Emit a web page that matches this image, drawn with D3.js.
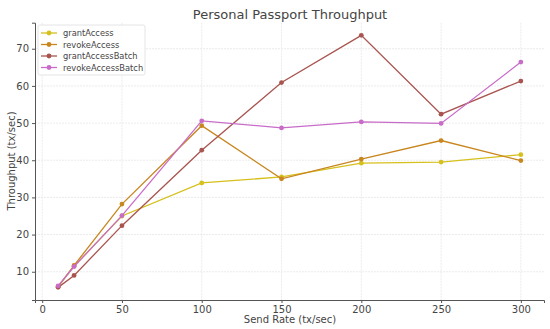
<!DOCTYPE html>
<html><head><meta charset="utf-8">
<script src="https://cdn.jsdelivr.net/npm/d3@7"></script>
<style>body{margin:0;background:#fff}svg{display:block}text{font-family:"DejaVu Sans",sans-serif;fill:#444}</style>
</head><body><svg id="c" width="550" height="329"></svg>
<script>
const sendRates = [10, 20, 50, 100, 150, 200, 250, 300];
const seriesNames = ["grantAccess", "revokeAccess", "grantAccessBatch", "revokeAccessBatch"];
const grantAccess = [6.0, 11.5, 25.0, 33.9, 35.5, 39.2, 39.5, 41.5];
const revokeAccess = [6.0, 11.7, 28.2, 49.3, 35.0, 40.3, 45.3, 39.9];
const grantAccessBatch = [5.8, 9.0, 22.4, 42.7, 60.9, 73.6, 52.4, 61.3];
const revokeAccessBatch = [6.2, 11.4, 25.1, 50.6, 48.7, 50.3, 49.9, 66.4];
const xTicks = [0, 50, 100, 150, 200, 250, 300];
const yTicks = [10, 20, 30, 40, 50, 60, 70];
const colors = ["#d6c01c", "#c8861f", "#a8544f", "#c86cc8"];

const svg = d3.select("#c");
const L = 35, R = 544, T = 22.7, B = 300;
const x = d3.scaleLinear().domain([-4.5, 314.5]).range([L, R]);
const y = d3.scaleLinear().domain([2.4, 77]).range([B, T]);

// grid
svg.append("g").selectAll("line").data(xTicks).join("line")
  .attr("x1", d => x(d)).attr("x2", d => x(d)).attr("y1", T).attr("y2", B)
  .attr("stroke", "#e6e6e6").attr("stroke-width", 0.8).attr("stroke-dasharray", "2,1");
svg.append("g").selectAll("line").data(yTicks).join("line")
  .attr("x1", L).attr("x2", R).attr("y1", d => y(d)).attr("y2", d => y(d))
  .attr("stroke", "#e6e6e6").attr("stroke-width", 0.8).attr("stroke-dasharray", "2,1");

// axes
const xa = svg.append("g").attr("transform", `translate(0,${B})`)
  .call(d3.axisBottom(x).tickValues(xTicks).tickSize(3).tickPadding(3));
const ya = svg.append("g").attr("transform", `translate(${L},0)`)
  .call(d3.axisLeft(y).tickValues(yTicks).tickSize(3).tickPadding(3));
[xa, ya].forEach(a => {
  a.select(".domain").attr("stroke", "#555").attr("stroke-width", 1);
  a.selectAll(".tick line").attr("stroke", "#555");
  a.selectAll(".tick text").attr("font-size", 10).attr("fill", "#444").attr("font-family", "DejaVu Sans");
});

const data = [grantAccess, revokeAccess, grantAccessBatch, revokeAccessBatch];
const line = d3.line().x((d, i) => x(sendRates[i])).y(d => y(d));
data.forEach((vals, k) => {
  svg.append("path").datum(vals).attr("d", line).attr("fill", "none")
    .attr("stroke", colors[k]).attr("stroke-width", 1.3);
  svg.append("g").selectAll("circle").data(vals).join("circle")
    .attr("cx", (d, i) => x(sendRates[i])).attr("cy", d => y(d)).attr("r", 2.4)
    .attr("fill", colors[k]);
});

// title & labels
svg.append("text").attr("x", 290).attr("y", 19).attr("text-anchor", "middle")
  .attr("font-size", 13).text("Personal Passport Throughput");
svg.append("text").attr("x", 290).attr("y", 323).attr("text-anchor", "middle")
  .attr("font-size", 10).text("Send Rate (tx/sec)");
svg.append("text").attr("transform", `translate(15,161) rotate(-90)`).attr("text-anchor", "middle")
  .attr("font-size", 10).text("Throughput (tx/sec)");

// legend
const lg = svg.append("g");
lg.append("rect").attr("x", 38).attr("y", 25).attr("width", 107).attr("height", 50).attr("rx", 2)
  .attr("fill", "#fff").attr("fill-opacity", 0.85).attr("stroke", "#ddd").attr("stroke-width", 0.8);
seriesNames.forEach((n, k) => {
  const yy = 33 + k * 11.5;
  lg.append("line").attr("x1", 41).attr("x2", 57).attr("y1", yy).attr("y2", yy)
    .attr("stroke", colors[k]).attr("stroke-width", 1.3);
  lg.append("circle").attr("cx", 49).attr("cy", yy).attr("r", 2.4).attr("fill", colors[k]);
  lg.append("text").attr("x", 63).attr("y", yy + 3).attr("font-size", 8.3).text(n);
});
</script></body></html>
